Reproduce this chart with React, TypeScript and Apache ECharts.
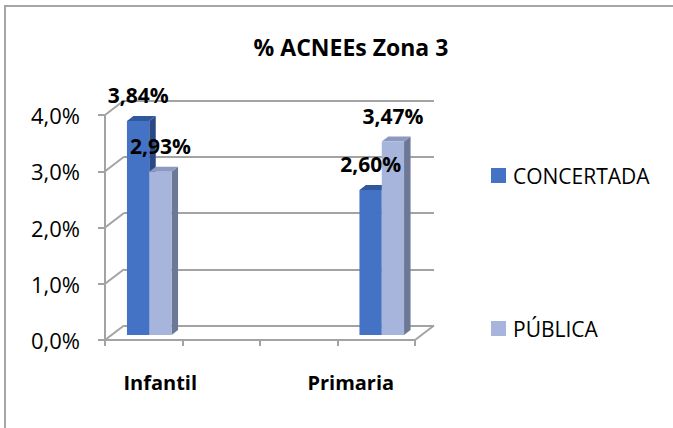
import React, { useEffect, useRef } from "react";
import * as echarts from "echarts";

const categories = ["Infantil", "Primaria"];
const seriesNames = ["CONCERTADA", "PÚBLICA"];
const concertada = [3.84, 2.6];
const publica = [2.93, 3.47];
const yTicks = [0, 1, 2, 3, 4];

const FONT = "'Open Sans', 'DejaVu Sans', sans-serif";
const GRID_COLOR = "#a3a3a3";
const DEPTH_DX = 19;
const DEPTH_DY = -14.5;
const BAR_W = 22.3;
const BAR_DX = 6.5;
const BAR_DY = -5;

const palettes = [
  { front: "#4472c4", top: "#30589f", side: "#2b4a85" },
  { front: "#a7b5dc", top: "#8c9ac2", side: "#6c7896" },
];

const fmtPct = (v: number, d: number) => v.toFixed(d).replace(".", ",") + "%";

export default function App() {
  const ref = useRef<HTMLDivElement>(null);
  useEffect(() => {
    document.body.style.margin = "0";
    const chart = echarts.init(ref.current!, null, { renderer: "svg" });

    const barSeries = (idx: number, values: number[]) => ({
      type: "custom",
      name: seriesNames[idx],
      xAxisIndex: 2,
      yAxisIndex: 2,
      clip: false,
      itemStyle: { color: palettes[idx].front },
      data: values.map((v, i) => [i, v]),
      renderItem: (params: any, api: any) => {
        const cat = api.value(0);
        const val = api.value(1);
        const base = api.coord([cat, 0]);
        const topP = api.coord([cat, val]);
        const x0 = idx === 0 ? base[0] - BAR_W : base[0];
        const x1 = x0 + BAR_W;
        const yb = base[1];
        const yt = topP[1];
        const p = palettes[idx];
        return {
          type: "group",
          children: [
            {
              type: "polygon",
              shape: {
                points: [
                  [x1, yt],
                  [x1 + BAR_DX, yt + BAR_DY],
                  [x1 + BAR_DX, yb + BAR_DY],
                  [x1, yb],
                ],
              },
              style: { fill: p.side },
            },
            {
              type: "polygon",
              shape: {
                points: [
                  [x0, yt],
                  [x0 + BAR_DX, yt + BAR_DY],
                  [x1 + BAR_DX, yt + BAR_DY],
                  [x1, yt],
                ],
              },
              style: { fill: p.top },
            },
            {
              type: "rect",
              shape: { x: x0, y: yt, width: BAR_W, height: yb - yt },
              style: { fill: p.front },
            },
            {
              type: "text",
              z2: 100,
              x: x0 + BAR_W / 2,
              y: yt - 26,
              style: {
                text: fmtPct(val, 2),
                fill: "#000",
                font: `bold 21px ${FONT}`,
                align: "center",
                verticalAlign: "middle",
              },
            },
          ],
        };
      },
    });

    const legendText = { fontFamily: FONT, fontSize: 21, color: "#000", lineHeight: 15, padding: [0, 0, 0, 2] };

    const option: any = {
      animation: false,
      backgroundColor: "#fff",
      title: {
        text: "% ACNEEs Zona 3",
        left: 346,
        top: 30,
        textAlign: "center",
        textStyle: { fontFamily: FONT, fontWeight: "bold", fontSize: 23, color: "#000" },
      },
      graphic: [
        {
          type: "rect",
          shape: { x: 5, y: 6, width: 720, height: 480 },
          style: { fill: "none", stroke: "#a6a6a6", lineWidth: 2 },
        },
      ],
      legend: [
        {
          data: [seriesNames[0]],
          orient: "vertical",
          left: 486,
          top: 160,
          icon: "rect",
          itemWidth: 15,
          itemHeight: 15,
          itemGap: 10,
          textStyle: legendText,
        },
        {
          data: [seriesNames[1]],
          orient: "vertical",
          left: 486,
          top: 313,
          icon: "rect",
          itemWidth: 15,
          itemHeight: 15,
          itemGap: 10,
          textStyle: legendText,
        },
      ],
      grid: [
        { left: 105, top: 115, width: 310, height: 225 },
        { left: 105 + DEPTH_DX, top: 115 + DEPTH_DY, width: 310, height: 225 },
        { left: 33, top: 112, width: 465, height: 223 },
        { left: 65, top: 115, width: 381, height: 225 },
      ],
      xAxis: [
        {
          gridIndex: 0,
          type: "value",
          min: 0,
          max: 4,
          interval: 1,
          axisLine: { show: true, lineStyle: { color: GRID_COLOR, width: 2 } },
          axisTick: { show: true, length: 6, lineStyle: { color: GRID_COLOR, width: 2 } },
          axisLabel: { show: false },
          splitLine: { show: false },
        },
        {
          gridIndex: 1,
          type: "value",
          min: 0,
          max: 4,
          show: false,
          splitLine: { show: false },
        },
        {
          gridIndex: 2,
          type: "category",
          data: categories,
          show: false,
        },
        {
          gridIndex: 3,
          type: "category",
          data: categories,
          axisLine: { show: false },
          axisTick: { show: false },
          axisLabel: {
            margin: 42,
            verticalAlign: "middle",
            fontFamily: FONT,
            fontWeight: "bold",
            fontSize: 20,
            color: "#000",
          },
        },
      ],
      yAxis: [
        {
          gridIndex: 0,
          type: "value",
          min: 0,
          max: 4,
          interval: 1,
          axisLine: { show: true, lineStyle: { color: GRID_COLOR, width: 2 } },
          axisTick: { show: true, length: 7, lineStyle: { color: GRID_COLOR, width: 2 } },
          axisLabel: {
            margin: 25,
            formatter: (v: number) => fmtPct(v, 1),
            fontFamily: FONT,
            fontSize: 22,
            color: "#000",
          },
          splitLine: { show: false },
        },
        {
          gridIndex: 1,
          type: "value",
          min: 0,
          max: 4,
          interval: 1,
          axisLine: { show: false },
          axisTick: { show: false },
          axisLabel: { show: false },
          splitLine: { show: true, lineStyle: { color: GRID_COLOR, width: 2 } },
        },
        { gridIndex: 2, type: "value", min: 0, max: 4, show: false, splitLine: { show: false } },
        { gridIndex: 3, type: "value", min: 0, max: 4, show: false, splitLine: { show: false } },
      ],
      series: [
        {
          type: "custom",
          xAxisIndex: 0,
          yAxisIndex: 0,
          clip: false,
          silent: true,
          data: [...yTicks.map((t) => [0, t]), [4, 0]],
          renderItem: (params: any, api: any) => {
            const p = api.coord([api.value(0), api.value(1)]);
            return {
              type: "line",
              shape: { x1: p[0], y1: p[1], x2: p[0] + DEPTH_DX, y2: p[1] + DEPTH_DY },
              style: { stroke: GRID_COLOR, lineWidth: 2 },
            };
          },
        },
        barSeries(0, concertada),
        barSeries(1, publica),
      ],
    };
    chart.setOption(option);
    return () => chart.dispose();
  }, []);
  return <div ref={ref} style={{ width: 673, height: 428 }} />;
}
